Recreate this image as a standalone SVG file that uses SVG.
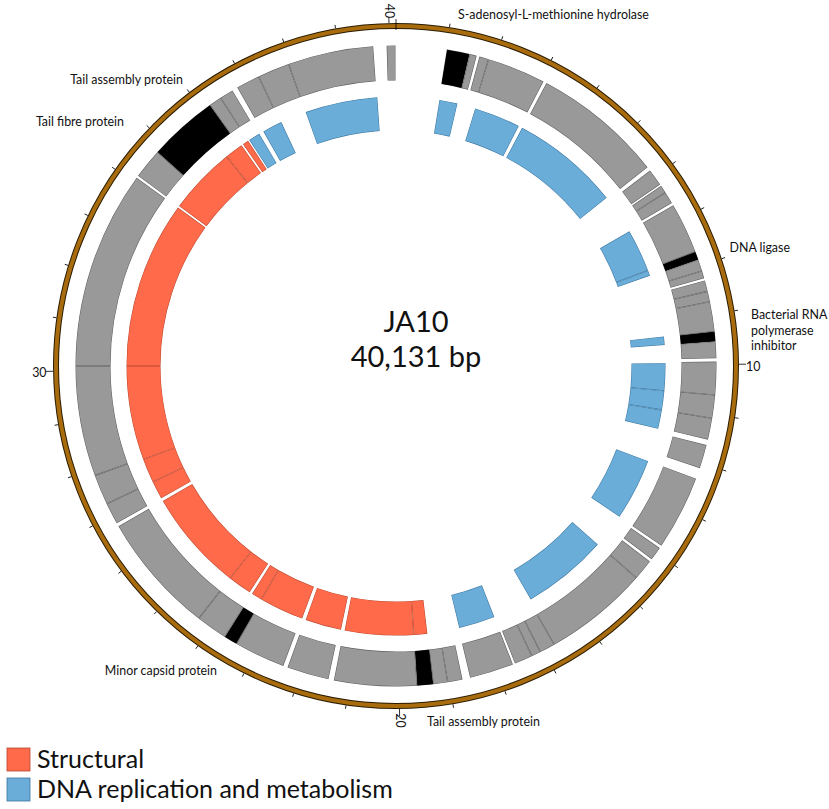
<svg xmlns="http://www.w3.org/2000/svg" xmlns:xlink="http://www.w3.org/1999/xlink" width="829" height="809" viewBox="0 0 829 809">
<defs>
<path id="tg" d="M396 63A303 303 0 1 1 396 669A303 303 0 1 1 396 63" pathLength="360" fill="none"/>
<path id="tc" d="M396 113.5A252.5 252.5 0 1 1 396 618.5A252.5 252.5 0 1 1 396 113.5" pathLength="360" fill="none"/>
<style>
.go{stroke:#5e5e5e;stroke-width:35;fill:none}
.gf{stroke:#999999;stroke-width:34;fill:none}
.ko{stroke:#1a1a1a;stroke-width:35;fill:none}
.kf{stroke:#000000;stroke-width:34;fill:none}
.ro{stroke:#b8472e;stroke-width:34;fill:none}
.rf{stroke:#ff6a4b;stroke-width:33;fill:none}
.bo{stroke:#3a74a0;stroke-width:34;fill:none}
.bf{stroke:#69add8;stroke-width:33;fill:none}
.tk{stroke:#000;stroke-width:0.8}
.lb{font-family:Lato,"Open Sans","Liberation Sans",sans-serif;font-size:12.4px;fill:#111}
.big{font-family:Lato,"Open Sans","Liberation Sans",sans-serif;font-size:29px;fill:#111;text-anchor:middle}
.lg{font-family:Lato,"Open Sans","Liberation Sans",sans-serif;font-size:25px;fill:#111}
</style>
</defs>
<rect width="829" height="809" fill="#fff"/>

<g id="ring">
<circle cx="396" cy="366" r="340" fill="none" stroke="#2a1c00" stroke-width="6"/>
<circle cx="396" cy="366" r="340" fill="none" stroke="#a86c0f" stroke-width="4"/>
</g>

<g id="ticks" class="tk">
<line x1="396" y1="30" x2="396" y2="19"/>
<line x1="396" y1="23" x2="396" y2="19.5" transform="rotate(8.971 396 366)"/>
<line x1="396" y1="23" x2="396" y2="19.5" transform="rotate(17.941 396 366)"/>
<line x1="396" y1="23" x2="396" y2="19.5" transform="rotate(26.912 396 366)"/>
<line x1="396" y1="23" x2="396" y2="19.5" transform="rotate(35.882 396 366)"/>
<line x1="396" y1="23" x2="396" y2="19.5" transform="rotate(44.853 396 366)"/>
<line x1="396" y1="23" x2="396" y2="19.5" transform="rotate(53.824 396 366)"/>
<line x1="396" y1="23" x2="396" y2="19.5" transform="rotate(62.794 396 366)"/>
<line x1="396" y1="23" x2="396" y2="19.5" transform="rotate(71.765 396 366)"/>
<line x1="396" y1="23" x2="396" y2="19.5" transform="rotate(80.736 396 366)"/>
<line x1="396" y1="23" x2="396" y2="16" transform="rotate(89.706 396 366)"/>
<line x1="396" y1="23" x2="396" y2="19.5" transform="rotate(98.677 396 366)"/>
<line x1="396" y1="23" x2="396" y2="19.5" transform="rotate(107.647 396 366)"/>
<line x1="396" y1="23" x2="396" y2="19.5" transform="rotate(116.618 396 366)"/>
<line x1="396" y1="23" x2="396" y2="19.5" transform="rotate(125.589 396 366)"/>
<line x1="396" y1="23" x2="396" y2="19.5" transform="rotate(134.559 396 366)"/>
<line x1="396" y1="23" x2="396" y2="19.5" transform="rotate(143.530 396 366)"/>
<line x1="396" y1="23" x2="396" y2="19.5" transform="rotate(152.501 396 366)"/>
<line x1="396" y1="23" x2="396" y2="19.5" transform="rotate(161.471 396 366)"/>
<line x1="396" y1="23" x2="396" y2="19.5" transform="rotate(170.442 396 366)"/>
<line x1="396" y1="23" x2="396" y2="16" transform="rotate(179.412 396 366)"/>
<line x1="396" y1="23" x2="396" y2="19.5" transform="rotate(188.383 396 366)"/>
<line x1="396" y1="23" x2="396" y2="19.5" transform="rotate(197.354 396 366)"/>
<line x1="396" y1="23" x2="396" y2="19.5" transform="rotate(206.324 396 366)"/>
<line x1="396" y1="23" x2="396" y2="19.5" transform="rotate(215.295 396 366)"/>
<line x1="396" y1="23" x2="396" y2="19.5" transform="rotate(224.265 396 366)"/>
<line x1="396" y1="23" x2="396" y2="19.5" transform="rotate(233.236 396 366)"/>
<line x1="396" y1="23" x2="396" y2="19.5" transform="rotate(242.207 396 366)"/>
<line x1="396" y1="23" x2="396" y2="19.5" transform="rotate(251.177 396 366)"/>
<line x1="396" y1="23" x2="396" y2="19.5" transform="rotate(260.148 396 366)"/>
<line x1="396" y1="23" x2="396" y2="16" transform="rotate(269.119 396 366)"/>
<line x1="396" y1="23" x2="396" y2="19.5" transform="rotate(278.089 396 366)"/>
<line x1="396" y1="23" x2="396" y2="19.5" transform="rotate(287.060 396 366)"/>
<line x1="396" y1="23" x2="396" y2="19.5" transform="rotate(296.031 396 366)"/>
<line x1="396" y1="23" x2="396" y2="19.5" transform="rotate(305.001 396 366)"/>
<line x1="396" y1="23" x2="396" y2="19.5" transform="rotate(313.972 396 366)"/>
<line x1="396" y1="23" x2="396" y2="19.5" transform="rotate(322.942 396 366)"/>
<line x1="396" y1="23" x2="396" y2="19.5" transform="rotate(331.913 396 366)"/>
<line x1="396" y1="23" x2="396" y2="19.5" transform="rotate(340.884 396 366)"/>
<line x1="396" y1="23" x2="396" y2="19.5" transform="rotate(349.854 396 366)"/>
<line x1="396" y1="23" x2="396" y2="17" transform="rotate(358.825 396 366)"/>
</g>

<g id="tick-labels" class="lb">
<text x="746" y="370.5">10</text>
<text x="0" y="0" text-anchor="middle" transform="translate(395.5 720.5) rotate(90)">20</text>
<text x="46.5" y="377" text-anchor="end">30</text>
<text x="0" y="0" text-anchor="middle" transform="translate(385 11) rotate(90)">40</text>
</g>

<g id="genes-outer">
<use href="#tg" class="ko" stroke-dasharray="4.15 360" stroke-dashoffset="-9.15"/><use href="#tg" class="kf" stroke-dasharray="3.95 360" stroke-dashoffset="-9.25"/>
<use href="#tg" class="go" stroke-dasharray="1.3 360" stroke-dashoffset="-13.3"/><use href="#tg" class="gf" stroke-dasharray="1.1 360" stroke-dashoffset="-13.4"/>
<use href="#tg" class="go" stroke-dasharray="1.7 360" stroke-dashoffset="-15.1"/><use href="#tg" class="gf" stroke-dasharray="1.5 360" stroke-dashoffset="-15.2"/>
<use href="#tg" class="go" stroke-dasharray="10.6 360" stroke-dashoffset="-16.8"/><use href="#tg" class="gf" stroke-dasharray="10.4 360" stroke-dashoffset="-16.9"/>
<use href="#tg" class="go" stroke-dasharray="23.7 360" stroke-dashoffset="-28.0"/><use href="#tg" class="gf" stroke-dasharray="23.5 360" stroke-dashoffset="-28.1"/>
<use href="#tg" class="go" stroke-dasharray="3.1 360" stroke-dashoffset="-52.4"/><use href="#tg" class="gf" stroke-dasharray="2.9 360" stroke-dashoffset="-52.5"/>
<use href="#tg" class="go" stroke-dasharray="1.4 360" stroke-dashoffset="-55.8"/><use href="#tg" class="gf" stroke-dasharray="1.2 360" stroke-dashoffset="-55.9"/>
<use href="#tg" class="go" stroke-dasharray="2.2 360" stroke-dashoffset="-57.2"/><use href="#tg" class="gf" stroke-dasharray="2.0 360" stroke-dashoffset="-57.3"/>
<use href="#tg" class="go" stroke-dasharray="9.2 360" stroke-dashoffset="-59.9"/><use href="#tg" class="gf" stroke-dasharray="9.0 360" stroke-dashoffset="-60.0"/>
<use href="#tg" class="ko" stroke-dasharray="1.5 360" stroke-dashoffset="-69.1"/><use href="#tg" class="kf" stroke-dasharray="1.3 360" stroke-dashoffset="-69.2"/>
<use href="#tg" class="go" stroke-dasharray="2.1 360" stroke-dashoffset="-70.6"/><use href="#tg" class="gf" stroke-dasharray="1.9 360" stroke-dashoffset="-70.7"/>
<use href="#tg" class="go" stroke-dasharray="1.4 360" stroke-dashoffset="-72.7"/><use href="#tg" class="gf" stroke-dasharray="1.2 360" stroke-dashoffset="-72.8"/>
<use href="#tg" class="go" stroke-dasharray="2.0 360" stroke-dashoffset="-74.5"/><use href="#tg" class="gf" stroke-dasharray="1.8 360" stroke-dashoffset="-74.6"/>
<use href="#tg" class="go" stroke-dasharray="1.9 360" stroke-dashoffset="-76.5"/><use href="#tg" class="gf" stroke-dasharray="1.7 360" stroke-dashoffset="-76.6"/>
<use href="#tg" class="go" stroke-dasharray="5.4 360" stroke-dashoffset="-78.4"/><use href="#tg" class="gf" stroke-dasharray="5.2 360" stroke-dashoffset="-78.5"/>
<use href="#tg" class="ko" stroke-dasharray="1.8 360" stroke-dashoffset="-83.8"/><use href="#tg" class="kf" stroke-dasharray="1.6 360" stroke-dashoffset="-83.9"/>
<use href="#tg" class="go" stroke-dasharray="3.0 360" stroke-dashoffset="-85.6"/><use href="#tg" class="gf" stroke-dasharray="2.8 360" stroke-dashoffset="-85.7"/>
<use href="#tg" class="go" stroke-dasharray="6.0 360" stroke-dashoffset="-89.2"/><use href="#tg" class="gf" stroke-dasharray="5.8 360" stroke-dashoffset="-89.3"/>
<use href="#tg" class="go" stroke-dasharray="4.2 360" stroke-dashoffset="-95.2"/><use href="#tg" class="gf" stroke-dasharray="4.0 360" stroke-dashoffset="-95.3"/>
<use href="#tg" class="go" stroke-dasharray="3.9 360" stroke-dashoffset="-99.4"/><use href="#tg" class="gf" stroke-dasharray="3.7 360" stroke-dashoffset="-99.5"/>
<use href="#tg" class="go" stroke-dasharray="4.3 360" stroke-dashoffset="-104.3"/><use href="#tg" class="gf" stroke-dasharray="4.1 360" stroke-dashoffset="-104.4"/>
<use href="#tg" class="go" stroke-dasharray="13.5 360" stroke-dashoffset="-110.6"/><use href="#tg" class="gf" stroke-dasharray="13.3 360" stroke-dashoffset="-110.7"/>
<use href="#tg" class="go" stroke-dasharray="2.5 360" stroke-dashoffset="-124.6"/><use href="#tg" class="gf" stroke-dasharray="2.3 360" stroke-dashoffset="-124.7"/>
<use href="#tg" class="go" stroke-dasharray="3.8 360" stroke-dashoffset="-127.6"/><use href="#tg" class="gf" stroke-dasharray="3.6 360" stroke-dashoffset="-127.7"/>
<use href="#tg" class="go" stroke-dasharray="19.0 360" stroke-dashoffset="-131.4"/><use href="#tg" class="gf" stroke-dasharray="18.8 360" stroke-dashoffset="-131.5"/>
<use href="#tg" class="go" stroke-dasharray="2.8 360" stroke-dashoffset="-150.4"/><use href="#tg" class="gf" stroke-dasharray="2.6 360" stroke-dashoffset="-150.5"/>
<use href="#tg" class="go" stroke-dasharray="1.7 360" stroke-dashoffset="-153.2"/><use href="#tg" class="gf" stroke-dasharray="1.5 360" stroke-dashoffset="-153.3"/>
<use href="#tg" class="go" stroke-dasharray="3.3 360" stroke-dashoffset="-154.9"/><use href="#tg" class="gf" stroke-dasharray="3.1 360" stroke-dashoffset="-155.0"/>
<use href="#tg" class="go" stroke-dasharray="8.0 360" stroke-dashoffset="-158.6"/><use href="#tg" class="gf" stroke-dasharray="7.8 360" stroke-dashoffset="-158.7"/>
<use href="#tg" class="go" stroke-dasharray="2.7 360" stroke-dashoffset="-168.0"/><use href="#tg" class="gf" stroke-dasharray="2.5 360" stroke-dashoffset="-168.1"/>
<use href="#tg" class="go" stroke-dasharray="2.6 360" stroke-dashoffset="-170.7"/><use href="#tg" class="gf" stroke-dasharray="2.4 360" stroke-dashoffset="-170.8"/>
<use href="#tg" class="ko" stroke-dasharray="2.9 360" stroke-dashoffset="-173.3"/><use href="#tg" class="kf" stroke-dasharray="2.7 360" stroke-dashoffset="-173.4"/>
<use href="#tg" class="go" stroke-dasharray="15.0 360" stroke-dashoffset="-176.2"/><use href="#tg" class="gf" stroke-dasharray="14.8 360" stroke-dashoffset="-176.3"/>
<use href="#tg" class="go" stroke-dasharray="7.6 360" stroke-dashoffset="-192.2"/><use href="#tg" class="gf" stroke-dasharray="7.4 360" stroke-dashoffset="-192.3"/>
<use href="#tg" class="go" stroke-dasharray="9.3 360" stroke-dashoffset="-200.6"/><use href="#tg" class="gf" stroke-dasharray="9.1 360" stroke-dashoffset="-200.7"/>
<use href="#tg" class="ko" stroke-dasharray="2.4 360" stroke-dashoffset="-209.9"/><use href="#tg" class="kf" stroke-dasharray="2.2 360" stroke-dashoffset="-210.0"/>
<use href="#tg" class="go" stroke-dasharray="5.7 360" stroke-dashoffset="-212.3"/><use href="#tg" class="gf" stroke-dasharray="5.5 360" stroke-dashoffset="-212.4"/>
<use href="#tg" class="go" stroke-dasharray="22.0 360" stroke-dashoffset="-218.0"/><use href="#tg" class="gf" stroke-dasharray="21.8 360" stroke-dashoffset="-218.1"/>
<use href="#tg" class="go" stroke-dasharray="3.9 360" stroke-dashoffset="-240.6"/><use href="#tg" class="gf" stroke-dasharray="3.7 360" stroke-dashoffset="-240.7"/>
<use href="#tg" class="go" stroke-dasharray="5.5 360" stroke-dashoffset="-244.5"/><use href="#tg" class="gf" stroke-dasharray="5.3 360" stroke-dashoffset="-244.6"/>
<use href="#tg" class="go" stroke-dasharray="20.0 360" stroke-dashoffset="-250.0"/><use href="#tg" class="gf" stroke-dasharray="19.8 360" stroke-dashoffset="-250.1"/>
<use href="#tg" class="go" stroke-dasharray="36.0 360" stroke-dashoffset="-270.0"/><use href="#tg" class="gf" stroke-dasharray="35.8 360" stroke-dashoffset="-270.1"/>
<use href="#tg" class="go" stroke-dasharray="5.5 360" stroke-dashoffset="-306.4"/><use href="#tg" class="gf" stroke-dasharray="5.3 360" stroke-dashoffset="-306.5"/>
<use href="#tg" class="ko" stroke-dasharray="12.6 360" stroke-dashoffset="-311.9"/><use href="#tg" class="kf" stroke-dasharray="12.4 360" stroke-dashoffset="-312.0"/>
<use href="#tg" class="go" stroke-dasharray="2.3 360" stroke-dashoffset="-324.5"/><use href="#tg" class="gf" stroke-dasharray="2.1 360" stroke-dashoffset="-324.6"/>
<use href="#tg" class="go" stroke-dasharray="2.5 360" stroke-dashoffset="-326.8"/><use href="#tg" class="gf" stroke-dasharray="2.3 360" stroke-dashoffset="-326.9"/>
<use href="#tg" class="go" stroke-dasharray="4.3 360" stroke-dashoffset="-330.3"/><use href="#tg" class="gf" stroke-dasharray="4.1 360" stroke-dashoffset="-330.4"/>
<use href="#tg" class="go" stroke-dasharray="5.8 360" stroke-dashoffset="-334.6"/><use href="#tg" class="gf" stroke-dasharray="5.6 360" stroke-dashoffset="-334.7"/>
<use href="#tg" class="go" stroke-dasharray="15.5 360" stroke-dashoffset="-340.4"/><use href="#tg" class="gf" stroke-dasharray="15.3 360" stroke-dashoffset="-340.5"/>
<use href="#tg" class="go" stroke-dasharray="1.6 360" stroke-dashoffset="-358.3"/><use href="#tg" class="gf" stroke-dasharray="1.4 360" stroke-dashoffset="-358.4"/>
</g>

<g id="genes-function">
<use href="#tc" class="bo" stroke-dasharray="3.9 360" stroke-dashoffset="-9.3"/><use href="#tc" class="bf" stroke-dasharray="3.68 360" stroke-dashoffset="-9.41"/>
<use href="#tc" class="bo" stroke-dasharray="10.0 360" stroke-dashoffset="-17.1"/><use href="#tc" class="bf" stroke-dasharray="9.78 360" stroke-dashoffset="-17.21"/>
<use href="#tc" class="bo" stroke-dasharray="23.5 360" stroke-dashoffset="-27.9"/><use href="#tc" class="bf" stroke-dasharray="23.28 360" stroke-dashoffset="-28.01"/>
<use href="#tc" class="bo" stroke-dasharray="9.2 360" stroke-dashoffset="-60.0"/><use href="#tc" class="bf" stroke-dasharray="8.98 360" stroke-dashoffset="-60.11"/>
<use href="#tc" class="bo" stroke-dasharray="1.2 360" stroke-dashoffset="-69.2"/><use href="#tc" class="bf" stroke-dasharray="0.98 360" stroke-dashoffset="-69.31"/>
<use href="#tc" class="bo" stroke-dasharray="1.8 360" stroke-dashoffset="-83.7"/><use href="#tc" class="bf" stroke-dasharray="1.58 360" stroke-dashoffset="-83.81"/>
<use href="#tc" class="bo" stroke-dasharray="5.9 360" stroke-dashoffset="-89.4"/><use href="#tc" class="bf" stroke-dasharray="5.68 360" stroke-dashoffset="-89.51"/>
<use href="#tc" class="bo" stroke-dasharray="4.1 360" stroke-dashoffset="-95.3"/><use href="#tc" class="bf" stroke-dasharray="3.88 360" stroke-dashoffset="-95.41"/>
<use href="#tc" class="bo" stroke-dasharray="4.1 360" stroke-dashoffset="-99.4"/><use href="#tc" class="bf" stroke-dasharray="3.88 360" stroke-dashoffset="-99.51"/>
<use href="#tc" class="bo" stroke-dasharray="13.3 360" stroke-dashoffset="-110.7"/><use href="#tc" class="bf" stroke-dasharray="13.08 360" stroke-dashoffset="-110.81"/>
<use href="#tc" class="bo" stroke-dasharray="18.5 360" stroke-dashoffset="-131.5"/><use href="#tc" class="bf" stroke-dasharray="18.28 360" stroke-dashoffset="-131.61"/>
<use href="#tc" class="bo" stroke-dasharray="7.8 360" stroke-dashoffset="-158.6"/><use href="#tc" class="bf" stroke-dasharray="7.58 360" stroke-dashoffset="-158.71"/>
<use href="#tc" class="ro" stroke-dasharray="2.9 360" stroke-dashoffset="-173.3"/><use href="#tc" class="rf" stroke-dasharray="2.68 360" stroke-dashoffset="-173.41"/>
<use href="#tc" class="ro" stroke-dasharray="14.8 360" stroke-dashoffset="-176.2"/><use href="#tc" class="rf" stroke-dasharray="14.58 360" stroke-dashoffset="-176.31"/>
<use href="#tc" class="ro" stroke-dasharray="7.8 360" stroke-dashoffset="-191.8"/><use href="#tc" class="rf" stroke-dasharray="7.58 360" stroke-dashoffset="-191.91"/>
<use href="#tc" class="ro" stroke-dasharray="9.6 360" stroke-dashoffset="-200.4"/><use href="#tc" class="rf" stroke-dasharray="9.38 360" stroke-dashoffset="-200.51"/>
<use href="#tc" class="ro" stroke-dasharray="2.3 360" stroke-dashoffset="-210.0"/><use href="#tc" class="rf" stroke-dasharray="2.08 360" stroke-dashoffset="-210.11"/>
<use href="#tc" class="ro" stroke-dasharray="5.1 360" stroke-dashoffset="-212.9"/><use href="#tc" class="rf" stroke-dasharray="4.88 360" stroke-dashoffset="-213.01"/>
<use href="#tc" class="ro" stroke-dasharray="21.9 360" stroke-dashoffset="-218.0"/><use href="#tc" class="rf" stroke-dasharray="21.68 360" stroke-dashoffset="-218.11"/>
<use href="#tc" class="ro" stroke-dasharray="3.9 360" stroke-dashoffset="-240.6"/><use href="#tc" class="rf" stroke-dasharray="3.68 360" stroke-dashoffset="-240.71"/>
<use href="#tc" class="ro" stroke-dasharray="5.2 360" stroke-dashoffset="-244.5"/><use href="#tc" class="rf" stroke-dasharray="4.98 360" stroke-dashoffset="-244.61"/>
<use href="#tc" class="ro" stroke-dasharray="20.3 360" stroke-dashoffset="-249.7"/><use href="#tc" class="rf" stroke-dasharray="20.08 360" stroke-dashoffset="-249.81"/>
<use href="#tc" class="ro" stroke-dasharray="36.0 360" stroke-dashoffset="-270.0"/><use href="#tc" class="rf" stroke-dasharray="35.78 360" stroke-dashoffset="-270.11"/>
<use href="#tc" class="ro" stroke-dasharray="14.6 360" stroke-dashoffset="-306.4"/><use href="#tc" class="rf" stroke-dasharray="14.38 360" stroke-dashoffset="-306.51"/>
<use href="#tc" class="ro" stroke-dasharray="4.0 360" stroke-dashoffset="-321.0"/><use href="#tc" class="rf" stroke-dasharray="3.78 360" stroke-dashoffset="-321.11"/>
<use href="#tc" class="ro" stroke-dasharray="1.3 360" stroke-dashoffset="-325.4"/><use href="#tc" class="rf" stroke-dasharray="1.08 360" stroke-dashoffset="-325.51"/>
<use href="#tc" class="bo" stroke-dasharray="2.5 360" stroke-dashoffset="-327.0"/><use href="#tc" class="bf" stroke-dasharray="2.28 360" stroke-dashoffset="-327.11"/>
<use href="#tc" class="bo" stroke-dasharray="4.3 360" stroke-dashoffset="-330.5"/><use href="#tc" class="bf" stroke-dasharray="4.08 360" stroke-dashoffset="-330.61"/>
<use href="#tc" class="bo" stroke-dasharray="15.6 360" stroke-dashoffset="-340.4"/><use href="#tc" class="bf" stroke-dasharray="15.38 360" stroke-dashoffset="-340.51"/>
</g>

<g id="gene-labels" class="lb">
<text x="458" y="18.5">S-adenosyl-L-methionine hydrolase</text>
<text x="183" y="83.5" text-anchor="end">Tail assembly protein</text>
<text x="124" y="126" text-anchor="end">Tail fibre protein</text>
<text x="729.5" y="252">DNA ligase</text>
<text x="751" y="319">Bacterial RNA</text>
<text x="751" y="334.5">polymerase</text>
<text x="751" y="350">inhibitor</text>
<text x="217" y="675" text-anchor="end">Minor capsid protein</text>
<text x="427" y="726">Tail assembly protein</text>
</g>

<g id="title">
<text class="big" x="416" y="332">JA10</text>
<text class="big" x="416" y="367">40,131 bp</text>
</g>

<g id="legend">
<rect x="7" y="748" width="23" height="23" fill="#ff6a4b" stroke="#b8472e" stroke-width="0.8"/>
<rect x="7" y="778" width="23" height="23" fill="#69add8" stroke="#3a74a0" stroke-width="0.8"/>
<text class="lg" x="37" y="767.5">Structural</text>
<text class="lg" x="37" y="798">DNA replication and metabolism</text>
</g>
</svg>
